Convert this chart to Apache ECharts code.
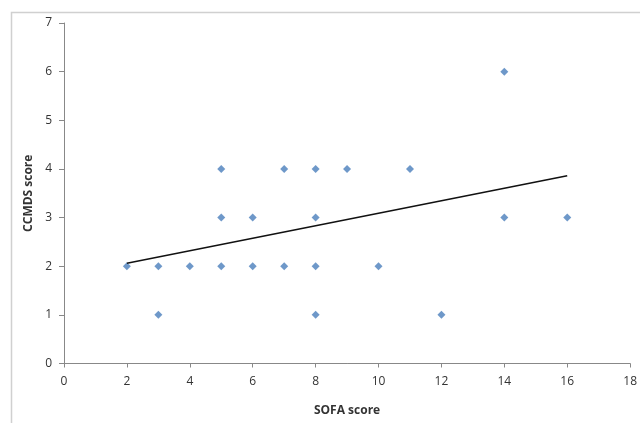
<!DOCTYPE html>
<html>
<head>
<meta charset="utf-8">
<script src="https://cdn.jsdelivr.net/npm/echarts@6/dist/echarts.min.js"></script>
<style>html,body{margin:0;padding:0;background:#fff;overflow:hidden}#c{width:640px;height:423px}</style>
</head>
<body>
<div id="c"></div>
<script>
const sofa = [2, 3, 3, 4, 5, 5, 5, 6, 6, 7, 7, 8, 8, 8, 8, 9, 10, 11, 12, 14, 14, 16];
const ccmds = [2, 2, 1, 2, 4, 3, 2, 3, 2, 4, 2, 4, 3, 2, 1, 4, 2, 4, 1, 6, 3, 3];
const trendX = [2, 16];
const trendY = [2.06, 3.86];

const chart = echarts.init(document.getElementById('c'), null, {renderer: 'canvas', width: 640, height: 423});
const font = 'Open Sans';
chart.setOption({
  animation: false,
  backgroundColor: '#fff',
  graphic: [{
    type: 'rect', left: 9, top: 10, shape: {width: 640, height: 420},
    style: {fill: 'none', stroke: '#d0d0d0', lineWidth: 1.5}, silent: true, z: -1
  }],
  grid: {left: 64, right: 6, top: 23, bottom: 59.5},
  xAxis: {
    type: 'value', min: 0, max: 18, interval: 2,
    name: 'SOFA score', nameLocation: 'middle', nameGap: 41,
    nameTextStyle: {fontFamily: font, fontSize: 12, fontWeight: 'bold', color: '#333'},
    axisLine: {show: true, lineStyle: {color: '#888', width: 1}},
    axisTick: {show: true, inside: false, length: 4, lineStyle: {color: '#888'}},
    axisLabel: {fontFamily: font, fontSize: 12, color: '#333', margin: 12},
    splitLine: {show: false}
  },
  yAxis: {
    type: 'value', min: 0, max: 7, interval: 1,
    name: 'CCMDS score', nameLocation: 'middle', nameGap: 28, nameRotate: 90,
    nameTextStyle: {fontFamily: font, fontSize: 12, fontWeight: 'bold', color: '#333'},
    axisLine: {show: true, lineStyle: {color: '#888', width: 1}},
    axisTick: {show: true, inside: false, length: 5, lineStyle: {color: '#888'}},
    axisLabel: {fontFamily: font, fontSize: 12, color: '#333', margin: 12},
    splitLine: {show: false}
  },
  series: [{
    type: 'scatter',
    symbol: 'diamond',
    symbolSize: 8,
    itemStyle: {color: '#4A7EBB'},
    data: sofa.map((x, i) => [x, ccmds[i]])
  }, {
    type: 'line',
    showSymbol: false,
    symbol: 'none',
    lineStyle: {color: '#111', width: 1.5},
    data: trendX.map((x, i) => [x, trendY[i]]),
    z: 3
  }]
});
</script>
</body>
</html>
